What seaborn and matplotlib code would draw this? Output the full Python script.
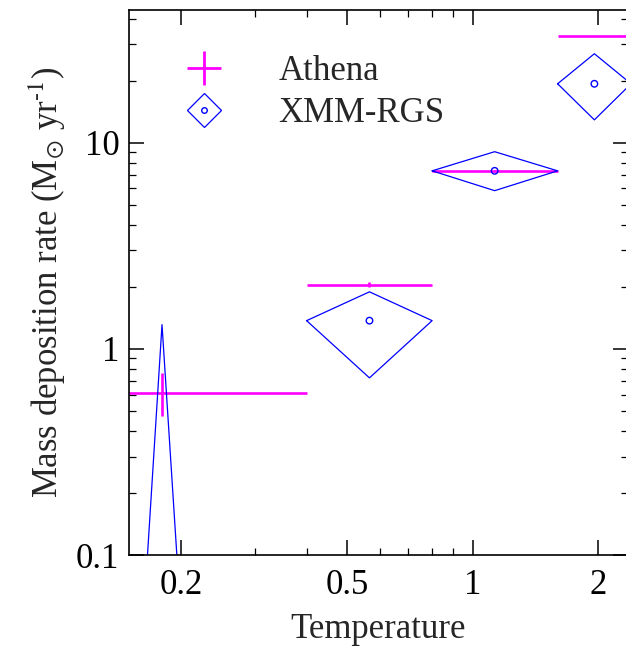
import numpy as np
import pandas as pd
import matplotlib
matplotlib.use("Agg")
import matplotlib.pyplot as plt
import seaborn as sns
from matplotlib.lines import Line2D
from matplotlib.ticker import FixedLocator, FixedFormatter, LogLocator, NullFormatter

# ---- data ----
athena_T = [0.18, 0.566, 1.13, 2.26]
athena_Tlo = [0.08, 0.40, 0.80, 1.60]
athena_Thi = [0.40, 0.80, 1.60, 3.20]
athena_M = [0.61, 2.05, 7.30, 33.0]
athena_Mlo = [0.47, 1.99, 7.22, 32.8]
athena_Mhi = [0.76, 2.11, 7.38, 33.2]

xmm_T = [0.18, 0.566, 1.13, 1.96]
xmm_Tlo = [0.16, 0.40, 0.80, 1.60]
xmm_Thi = [0.203, 0.80, 1.60, 2.40]
xmm_M = [0.03, 1.37, 7.30, 19.3]
xmm_Mlo = [0.001, 0.723, 5.85, 12.9]
xmm_Mhi = [1.31, 1.89, 9.04, 27.0]

xticks = [0.2, 0.5, 1, 2]
xticklabels = ["0.2", "0.5", "1", "2"]
yticks = [0.1, 1, 10]
yticklabels = ["0.1", "1", "10"]

sns.set_style("ticks")
plt.rcParams['font.family'] = ['Liberation Serif', 'DejaVu Serif']
plt.rcParams['mathtext.fontset'] = 'stix'

MAG = '#ff00ff'
BLUE = '#0000ff'

fig = plt.figure(figsize=(6.26, 6.47), dpi=100)
ax = fig.add_axes([129/626, 1-555/647, (628-129)/626, (555-10)/647])
ax.set_xscale('log')
ax.set_yscale('log')

# Athena error crosses
T = np.array(athena_T); M = np.array(athena_M)
ax.errorbar(T, M,
            xerr=[T - np.array(athena_Tlo), np.array(athena_Thi) - T],
            yerr=[M - np.array(athena_Mlo), np.array(athena_Mhi) - M],
            fmt='none', ecolor=MAG, elinewidth=1.9, capsize=0)

# XMM-RGS diamonds
for x, lo, hi, y, ylo, yhi in zip(xmm_T, xmm_Tlo, xmm_Thi, xmm_M, xmm_Mlo, xmm_Mhi):
    ax.plot([lo, x, hi, x, lo], [y, yhi, y, ylo, y], color=BLUE, lw=0.9)

df = pd.DataFrame({"T": xmm_T, "M": xmm_M})
sns.scatterplot(data=df, x="T", y="M", marker='o', s=22, facecolor='none',
                edgecolor=BLUE, linewidth=1.0, ax=ax, zorder=3)

ax.set_xlim(0.15, 2.36)
ax.set_ylim(0.1, 44)

ax.xaxis.set_major_locator(FixedLocator(xticks))
ax.xaxis.set_major_formatter(FixedFormatter(xticklabels))
ax.xaxis.set_minor_locator(LogLocator(base=10, subs=np.arange(1, 10)))
ax.xaxis.set_minor_formatter(NullFormatter())
ax.yaxis.set_major_locator(FixedLocator(yticks))
ax.yaxis.set_major_formatter(FixedFormatter(yticklabels))
ax.yaxis.set_minor_locator(LogLocator(base=10, subs=np.arange(1, 10)))
ax.yaxis.set_minor_formatter(NullFormatter())

ax.tick_params(which='both', direction='in', top=True, right=True, colors='black')
ax.tick_params(which='major', length=11, width=1.1, labelsize=25)
ax.tick_params(which='minor', length=5, width=0.9)
ax.tick_params(axis='x', which='major', pad=10)
ax.tick_params(axis='y', which='major', pad=7)
for s in ax.spines.values():
    s.set_linewidth(1.2)
    s.set_color('black')

ax.set_xlabel("Temperature", fontsize=25, labelpad=8)
ax.set_ylabel("Mass deposition rate (M$_{\\odot}$ yr$^{\\text{-}1}$)", fontsize=25, labelpad=6)

handles = [Line2D([], [], ls='none', marker='+', ms=24, mew=2.0, color=MAG),
           (Line2D([], [], ls='none', marker='D', ms=17.5, mfc='none', mec=BLUE, mew=0.9),
            Line2D([], [], ls='none', marker='o', ms=4, mfc='none', mec=BLUE, mew=1.0))]
ax.legend(handles, ['Athena', 'XMM-RGS'], loc='upper left',
          bbox_to_anchor=(0.0986, 0.917), frameon=False, fontsize=25,
          handlelength=1.5, handletextpad=1.38, labelspacing=0.26,
          borderpad=0, borderaxespad=0)

fig.savefig("out.png", dpi=100)
